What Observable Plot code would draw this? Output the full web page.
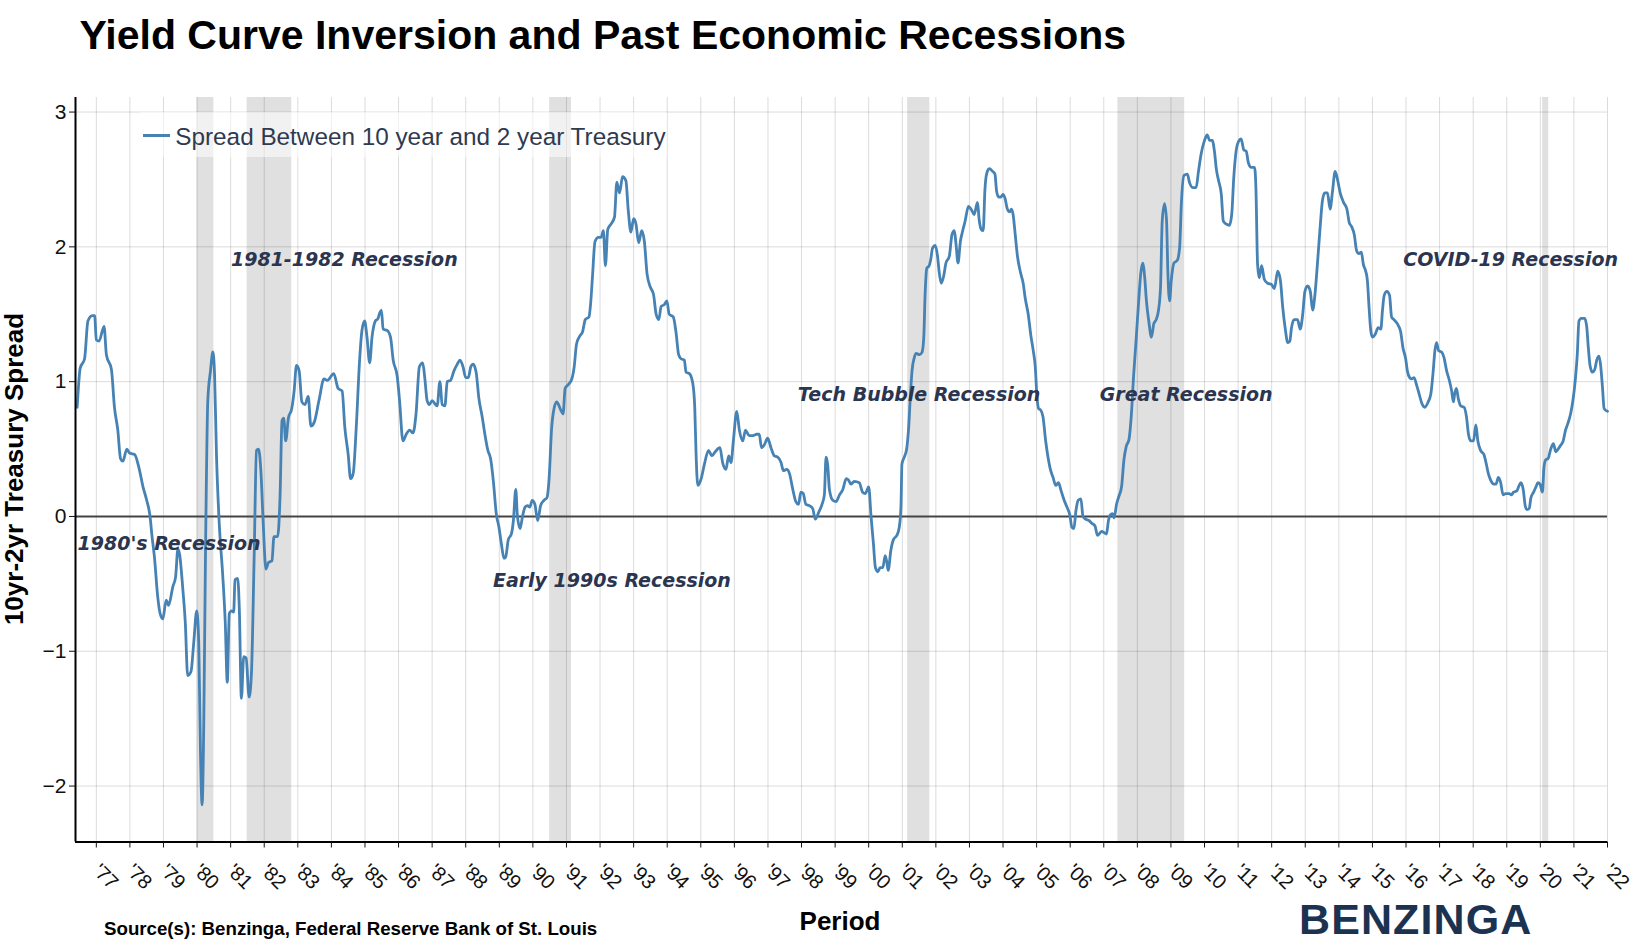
<!DOCTYPE html>
<html>
<head>
<meta charset="utf-8">
<script src="https://cdn.jsdelivr.net/npm/d3@7"></script>
<script src="https://cdn.jsdelivr.net/npm/@observablehq/plot@0.6"></script>
<style>
  html, body { margin: 0; padding: 0; background: #fff; }
  #page { position: relative; width: 1635px; height: 951px; overflow: hidden; font-family: "Liberation Sans", Arial, sans-serif; }
  .abs { position: absolute; white-space: nowrap; line-height: 1; }
</style>
</head>
<body>
<div id="page">
  <div id="chart" style="position:absolute;left:0;top:75px;"></div>
  <div class="abs" style="left:79.5px;top:15.3px;font-size:41px;font-weight:bold;color:#000;">Yield Curve Inversion and Past Economic Recessions</div>
  <div class="abs" style="left:140px;top:112px;width:527px;height:45px;background:rgba(255,255,255,0.55);">
    <div style="position:absolute;left:3px;top:22px;width:27px;height:3px;background:#4682b4;"></div>
    <div class="abs" style="left:35.3px;top:12.7px;font-size:24.3px;color:#2f3a50;">Spread Between 10 year and 2 year Treasury</div>
  </div>
  <div class="abs" style="left:13.5px;top:469px;transform:translate(-50%,-50%) rotate(-90deg);font-size:26px;font-weight:bold;color:#000;">10yr-2yr Treasury Spread</div>
  <div class="abs" style="left:840px;top:908px;transform:translateX(-50%);font-size:26px;font-weight:bold;color:#000;">Period</div>
  <div class="abs" style="left:104px;top:920px;font-size:18.7px;font-weight:bold;color:#000;">Source(s): Benzinga, Federal Reserve Bank of St. Louis</div>
  <div class="abs" style="left:1299px;top:897.5px;font-size:43px;font-weight:bold;color:#1b3350;letter-spacing:1.1px;">BENZINGA</div>
</div>
<script>
// ---- Data ----
const years = [
  1976.43,1976.52,1976.65,1976.75,1976.88,1976.95,
  1977.00,1977.08,1977.23,1977.30,1977.45,1977.54,1977.64,1977.72,1977.79,1977.91,1977.99,
  1978.14,1978.27,1978.39,1978.50,1978.60,1978.66,1978.73,1978.83,1978.90,1978.98,
  1979.08,1979.15,1979.28,1979.36,1979.43,1979.48,1979.57,1979.65,1979.72,1979.82,1979.90,1979.99,
  1980.05,1980.10,1980.15,1980.20,1980.25,1980.32,1980.40,1980.47,1980.52,1980.58,1980.66,1980.76,1980.84,1980.90,1980.96,
  1981.03,1981.09,1981.13,1981.21,1981.26,1981.32,1981.39,1981.46,1981.55,1981.62,1981.70,1981.77,1981.83,1981.90,1981.97,
  1982.05,1982.13,1982.23,1982.29,1982.40,1982.47,1982.53,1982.58,1982.64,1982.72,1982.82,1982.89,1982.96,
  1983.04,1983.12,1983.21,1983.31,1983.39,1983.49,1983.63,1983.78,1983.88,
  1984.07,1984.20,1984.32,1984.40,1984.50,1984.57,1984.65,1984.74,1984.84,1984.91,1984.99,
  1985.06,1985.14,1985.21,1985.31,1985.39,1985.44,1985.49,1985.54,1985.66,1985.76,1985.84,1985.96,
  1986.03,1986.13,1986.23,1986.33,1986.43,1986.52,1986.62,1986.72,1986.78,1986.85,1986.92,
  1987.00,1987.10,1987.15,1987.23,1987.30,1987.38,1987.45,1987.55,1987.65,1987.75,1987.83,1987.92,
  1988.00,1988.08,1988.15,1988.22,1988.31,1988.39,1988.49,1988.57,1988.66,1988.74,1988.82,1988.91,1988.99,
  1989.06,1989.14,1989.19,1989.27,1989.36,1989.42,1989.49,1989.54,1989.62,1989.69,1989.77,1989.84,1989.91,1989.98,
  1990.06,1990.14,1990.23,1990.33,1990.42,1990.48,1990.56,1990.63,1990.71,1990.83,1990.90,1990.96,
  1991.06,1991.16,1991.23,1991.30,1991.40,1991.48,1991.56,1991.67,1991.72,1991.77,1991.85,1991.95,
  1992.03,1992.10,1992.16,1992.23,1992.33,1992.43,1992.50,1992.58,1992.67,1992.77,1992.84,1992.92,
  1993.00,1993.07,1993.15,1993.24,1993.32,1993.40,1993.50,1993.59,1993.67,1993.75,1993.82,1993.91,1993.99,
  1994.06,1994.18,1994.26,1994.34,1994.41,1994.51,1994.56,1994.66,1994.76,1994.82,1994.86,1994.91,
  1995.01,1995.11,1995.23,1995.33,1995.43,1995.57,1995.65,1995.75,1995.83,1995.90,1995.97,
  1996.07,1996.15,1996.25,1996.33,1996.44,1996.56,1996.66,1996.74,1996.81,1996.89,1996.99,
  1997.09,1997.19,1997.29,1997.39,1997.46,1997.56,1997.64,1997.74,1997.83,1997.91,1997.98,
  1998.05,1998.13,1998.23,1998.33,1998.41,1998.51,1998.61,1998.68,1998.73,1998.78,1998.83,1998.93,
  1999.03,1999.13,1999.23,1999.33,1999.40,1999.47,1999.57,1999.72,1999.82,1999.90,
  2000.00,2000.07,2000.14,2000.20,2000.27,2000.34,2000.42,2000.49,2000.54,2000.58,2000.66,2000.74,2000.84,2000.91,2000.96,2000.99,
  2001.06,2001.13,2001.19,2001.24,2001.29,2001.36,2001.41,2001.51,2001.59,2001.64,2001.68,2001.73,2001.80,2001.85,2001.90,2001.98,
  2002.05,2002.10,2002.16,2002.23,2002.30,2002.40,2002.48,2002.55,2002.60,2002.66,2002.73,2002.79,2002.87,2002.97,
  2003.07,2003.14,2003.24,2003.29,2003.35,2003.41,2003.46,2003.51,2003.59,2003.69,2003.76,2003.81,2003.87,2003.94,
  2004.00,2004.06,2004.13,2004.20,2004.25,2004.30,2004.36,2004.43,2004.53,2004.60,2004.66,2004.75,2004.83,2004.90,2004.96,
  2005.01,2005.06,2005.12,2005.19,2005.27,2005.34,2005.42,2005.49,2005.57,2005.65,2005.73,2005.82,2005.92,2005.99,
  2006.05,2006.11,2006.17,2006.24,2006.32,2006.38,2006.46,2006.56,2006.64,2006.74,2006.81,2006.86,2006.94,
  2007.01,2007.08,2007.14,2007.19,2007.26,2007.31,2007.38,2007.45,2007.53,2007.60,2007.67,2007.75,2007.82,2007.89,2007.96,
  2008.04,2008.10,2008.16,2008.22,2008.27,2008.34,2008.42,2008.49,2008.56,2008.63,2008.69,2008.74,2008.81,2008.87,2008.91,2008.96,
  2009.01,2009.09,2009.19,2009.26,2009.31,2009.39,2009.49,2009.55,2009.65,2009.75,2009.82,2009.90,
  2010.00,2010.08,2010.15,2010.23,2010.30,2010.35,2010.42,2010.50,2010.56,2010.64,2010.74,2010.81,2010.87,2010.94,
  2011.01,2011.09,2011.17,2011.24,2011.31,2011.39,2011.49,2011.53,2011.58,2011.63,2011.70,2011.78,2011.88,
  2012.00,2012.08,2012.18,2012.26,2012.33,2012.40,2012.48,2012.54,2012.59,2012.67,2012.77,2012.85,2012.92,2012.99,
  2013.07,2013.15,2013.22,2013.29,2013.37,2013.45,2013.51,2013.58,2013.66,2013.74,2013.81,2013.89,2013.96,
  2014.04,2014.14,2014.24,2014.31,2014.38,2014.46,2014.53,2014.60,2014.67,2014.73,2014.80,2014.85,2014.90,2014.95,
  2015.00,2015.08,2015.17,2015.25,2015.30,2015.35,2015.43,2015.51,2015.57,2015.64,2015.74,2015.84,2015.91,2015.99,
  2016.04,2016.11,2016.17,2016.24,2016.32,2016.39,2016.47,2016.56,2016.66,2016.74,2016.81,2016.86,2016.91,2016.97,
  2017.06,2017.13,2017.21,2017.29,2017.36,2017.41,2017.45,2017.50,2017.56,2017.63,2017.73,2017.80,2017.86,2017.93,
  2018.01,2018.08,2018.14,2018.22,2018.32,2018.39,2018.45,2018.52,2018.62,2018.68,2018.75,2018.82,2018.89,2018.97,
  2019.07,2019.14,2019.20,2019.30,2019.37,2019.42,2019.49,2019.55,2019.60,2019.67,2019.72,2019.80,2019.87,2019.93,2019.99,
  2020.06,2020.11,2020.16,2020.23,2020.31,2020.39,2020.46,2020.53,2020.61,2020.68,2020.75,2020.82,2020.90,2020.97,
  2021.04,2021.10,2021.15,2021.22,2021.32,2021.38,2021.43,2021.48,2021.55,2021.62,2021.68,2021.75,2021.80,2021.85,2021.90,2022.00
];
const spread = [
  0.81,1.10,1.17,1.45,1.49,1.49,
  1.31,1.30,1.41,1.20,1.09,0.81,0.64,0.43,0.41,0.50,0.47,
  0.46,0.36,0.22,0.12,0.00,-0.15,-0.30,-0.60,-0.72,-0.76,
  -0.62,-0.66,-0.52,-0.45,-0.24,-0.28,-0.52,-0.79,-1.18,-1.15,-0.94,-0.70,
  -0.94,-1.73,-2.14,-1.53,-0.30,0.86,1.08,1.22,1.06,0.44,-0.05,-0.42,-0.79,-1.23,-0.72,
  -0.70,-0.71,-0.47,-0.46,-0.70,-1.35,-1.04,-1.05,-1.34,-1.16,-0.30,0.49,0.50,0.34,-0.05,
  -0.39,-0.34,-0.33,-0.15,-0.15,0.14,0.71,0.73,0.56,0.73,0.80,0.93,1.12,
  1.08,0.85,0.83,0.89,0.67,0.70,0.86,1.02,1.01,
  1.06,0.95,0.93,0.66,0.46,0.28,0.32,0.66,1.16,1.38,1.45,
  1.33,1.14,1.33,1.45,1.47,1.51,1.53,1.39,1.38,1.33,1.16,1.04,
  0.86,0.56,0.61,0.64,0.62,0.76,1.11,1.14,1.03,0.86,0.83,
  0.86,0.83,0.82,1.00,0.83,0.82,1.00,1.01,1.08,1.13,1.16,1.11,
  1.03,1.03,1.11,1.13,1.07,0.88,0.74,0.61,0.49,0.43,0.27,0.02,-0.08,
  -0.20,-0.31,-0.30,-0.17,-0.13,-0.03,0.20,0.00,-0.09,0.00,0.07,0.08,0.07,0.12,
  0.09,-0.03,0.08,0.12,0.14,0.27,0.66,0.80,0.85,0.79,0.76,0.95,
  0.98,1.02,1.11,1.28,1.34,1.37,1.46,1.48,1.58,1.76,2.04,2.07,
  2.07,2.12,1.86,2.13,2.17,2.22,2.48,2.40,2.52,2.49,2.27,2.11,
  2.21,2.17,2.03,2.12,2.04,1.80,1.70,1.65,1.50,1.46,1.56,1.57,1.60,
  1.50,1.48,1.37,1.20,1.17,1.16,1.07,1.06,0.99,0.81,0.46,0.23,
  0.28,0.39,0.49,0.45,0.48,0.51,0.40,0.35,0.45,0.40,0.56,
  0.78,0.64,0.56,0.64,0.60,0.60,0.61,0.61,0.51,0.53,0.58,
  0.51,0.45,0.44,0.40,0.34,0.35,0.32,0.20,0.11,0.09,0.18,
  0.17,0.09,0.08,0.06,-0.02,0.03,0.09,0.16,0.44,0.38,0.20,0.12,
  0.11,0.16,0.20,0.28,0.27,0.24,0.26,0.25,0.18,0.17,
  0.22,0.00,-0.20,-0.38,-0.41,-0.38,-0.38,-0.29,-0.34,-0.40,-0.25,-0.17,-0.14,-0.08,0.07,0.39,
  0.44,0.50,0.66,0.89,1.08,1.18,1.21,1.20,1.22,1.33,1.65,1.84,1.86,1.91,1.99,2.01,
  1.93,1.81,1.73,1.78,1.88,1.93,2.09,2.12,2.02,1.88,2.04,2.11,2.19,2.30,
  2.27,2.24,2.33,2.20,2.13,2.12,2.42,2.54,2.58,2.56,2.54,2.41,2.37,2.37,
  2.39,2.36,2.28,2.26,2.28,2.24,2.10,1.93,1.80,1.73,1.62,1.50,1.34,1.23,1.11,
  0.89,0.80,0.79,0.74,0.56,0.44,0.34,0.29,0.23,0.25,0.19,0.12,0.06,0.01,
  -0.08,-0.09,0.04,0.12,0.13,0.00,-0.02,-0.03,-0.05,-0.07,-0.14,-0.13,-0.11,
  -0.12,-0.13,-0.03,0.01,0.02,-0.01,0.09,0.15,0.22,0.42,0.52,0.57,0.75,1.05,1.30,
  1.60,1.80,1.88,1.77,1.60,1.45,1.33,1.43,1.46,1.53,1.70,2.19,2.32,2.19,1.80,1.60,
  1.75,1.88,1.90,2.00,2.32,2.53,2.54,2.48,2.44,2.44,2.56,2.69,
  2.79,2.83,2.79,2.79,2.70,2.58,2.49,2.39,2.19,2.17,2.16,2.24,2.51,2.71,
  2.78,2.80,2.72,2.71,2.62,2.59,2.59,2.44,1.87,1.77,1.86,1.76,1.73,
  1.72,1.69,1.82,1.75,1.55,1.40,1.29,1.30,1.40,1.46,1.46,1.39,1.49,1.67,
  1.71,1.67,1.53,1.65,1.90,2.17,2.34,2.40,2.40,2.28,2.41,2.56,2.50,
  2.40,2.33,2.28,2.18,2.15,2.09,1.97,1.95,1.96,1.87,1.82,1.75,1.55,1.38,
  1.33,1.35,1.40,1.39,1.53,1.64,1.67,1.64,1.48,1.46,1.43,1.37,1.25,1.17,
  1.08,1.03,1.02,1.03,0.97,0.91,0.84,0.81,0.85,0.91,1.08,1.23,1.29,1.23,
  1.22,1.18,1.08,1.01,0.93,0.85,0.91,0.95,0.87,0.82,0.81,0.74,0.61,0.56,
  0.56,0.68,0.56,0.49,0.46,0.39,0.32,0.27,0.24,0.24,0.29,0.25,0.16,0.17,
  0.17,0.16,0.18,0.19,0.23,0.25,0.20,0.08,0.05,0.06,0.14,0.18,0.22,0.25,0.24,
  0.18,0.37,0.42,0.43,0.50,0.54,0.48,0.50,0.53,0.56,0.64,0.69,0.76,0.86,
  1.01,1.20,1.45,1.47,1.47,1.41,1.25,1.12,1.07,1.09,1.16,1.19,1.11,0.96,0.80,0.78
];

// Recession periods (decimal years)
const recessionStart = [1980.00, 1981.49, 1990.50, 2001.16, 2007.42, 2020.07];
const recessionEnd   = [1980.50, 1982.82, 1991.15, 2001.82, 2009.41, 2020.25];

// Annotations
const annotationText = ["1980's Recession", "1981-1982 Recession", "Early 1990s Recession", "Tech Bubble Recession", "Great Recession", "COVID-19 Recession"];
const annotationYear = [1976.44, 1981.01, 1988.81, 1997.89, 2006.88, 2015.92];
const annotationValue = [-0.252, 1.855, -0.52, 0.857, 0.857, 1.858];

// Axis ticks
const yearTicks = d3.range(1977, 2023);
const valueTicks = [-2, -1, 0, 1, 2, 3];
const xDomain = [1976.38, 2022.0];
const yDomain = [-2.415, 3.108];

// ---- Build tables ----
const n = Math.min(years.length, spread.length);
const series = d3.range(n).map(i => ({year: years[i], spread: spread[i]}));
const recessions = recessionStart.map((s, i) => ({start: s, end: recessionEnd[i]}));
const annotations = annotationText.map((t, i) => ({text: t, year: annotationYear[i], value: annotationValue[i]}));
const yearLabel = d => "'" + String(d % 100).padStart(2, "0");
const valueLabel = d => (d < 0 ? "\u2212" : "") + Math.abs(d);

const chart = Plot.plot({
  width: 1635,
  height: 876,
  marginLeft: 75,
  marginRight: 28,
  marginTop: 22,
  marginBottom: 109.5,
  style: {fontFamily: '"Liberation Sans", Arial, sans-serif', fontSize: "21px", color: "#111", background: "transparent", overflow: "visible"},
  x: {type: "linear", domain: xDomain, label: null},
  y: {domain: yDomain, label: null},
  marks: [
    Plot.rect(recessions, {x1: "start", x2: "end", fill: "#e0e0e0"}),
    Plot.gridX({ticks: yearTicks, stroke: "#000", strokeOpacity: 0.14, strokeWidth: 1}),
    Plot.gridY({ticks: valueTicks, stroke: "#000", strokeOpacity: 0.14, strokeWidth: 1}),
    Plot.ruleY([0], {stroke: "#444", strokeWidth: 2}),
    Plot.line(series, {x: "year", y: "spread", stroke: "#4682b4", strokeWidth: 2.8, curve: "monotone-x"}),
    Plot.text(annotations, {
      x: "year", y: "value", text: "text",
      textAnchor: "start", lineAnchor: "bottom",
      fontFamily: "DejaVu Sans", fontWeight: "bold", fontStyle: "italic", fontSize: 19,
      fill: "#2b3550"
    }),
    Plot.ruleX([xDomain[0]], {stroke: "#000", strokeWidth: 2}),
    Plot.ruleY([yDomain[0]], {stroke: "#000", strokeWidth: 2}),
    Plot.axisY({ticks: valueTicks, tickSize: 6, tickPadding: 3, fontSize: 21, tickFormat: valueLabel, label: null}),
    Plot.axisX({ticks: yearTicks, tickSize: 6, tickFormat: () => "", label: null}),
    Plot.text(yearTicks, {
      x: d => d, text: yearLabel, frameAnchor: "bottom",
      dy: 25.5, dx: 0, rotate: 45, textAnchor: "start", lineAnchor: "middle",
      fontSize: 20, fill: "#111"
    })
  ]
});
document.getElementById("chart").appendChild(chart);
</script>
</body>
</html>
